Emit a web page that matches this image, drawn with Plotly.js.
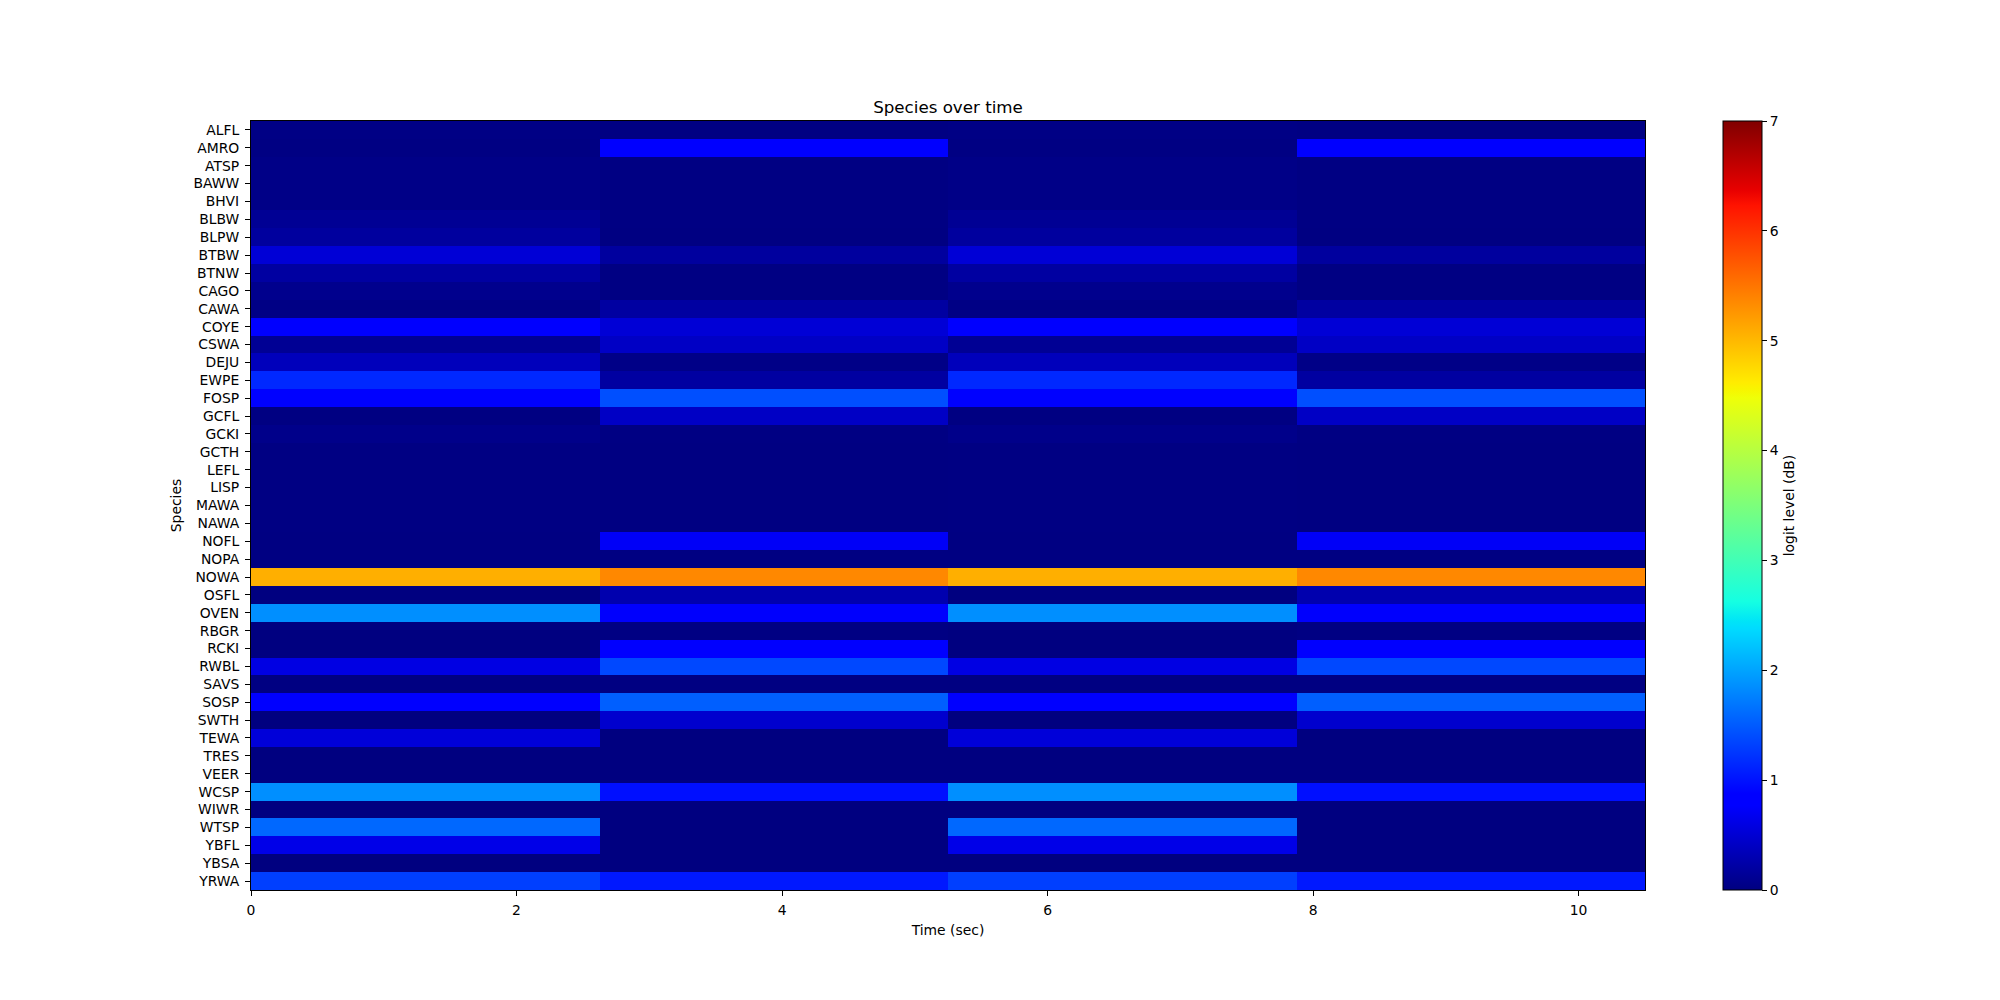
<!DOCTYPE html>
<html>
<head>
<meta charset="utf-8">
<script src="https://cdn.plot.ly/plotly-3.0.1.min.js"></script>
<style>html,body{margin:0;padding:0;background:#fff;}#chart{width:2000px;height:1000px;}</style>
</head>
<body>
<div id="chart"></div>
<script>
const species = ["ALFL","AMRO","ATSP","BAWW","BHVI","BLBW","BLPW","BTBW","BTNW","CAGO","CAWA","COYE","CSWA","DEJU","EWPE","FOSP","GCFL","GCKI","GCTH","LEFL","LISP","MAWA","NAWA","NOFL","NOPA","NOWA","OSFL","OVEN","RBGR","RCKI","RWBL","SAVS","SOSP","SWTH","TEWA","TRES","VEER","WCSP","WIWR","WTSP","YBFL","YBSA","YRWA"];
const timeEdges = [0, 2.625, 5.25, 7.875, 10.5];
// logit level per species for each time segment
const seg1 = [0.03,0.02,0.04,0.04,0.04,0.12,0.18,0.52,0.20,0.08,0.03,0.82,0.12,0.36,1.15,0.88,0.01,0.06,0.02,0.02,0.02,0.02,0.02,0.01,0.01,5.07,0.00,1.86,0.00,0.00,0.60,0.01,0.84,0.00,0.54,0.00,0.00,1.86,0.00,1.59,0.63,0.00,1.31];
const seg2 = [0.02,0.84,0.02,0.02,0.02,0.02,0.01,0.18,0.02,0.02,0.20,0.52,0.42,0.04,0.20,1.42,0.42,0.02,0.01,0.01,0.01,0.01,0.01,0.72,0.01,5.36,0.28,0.76,0.02,0.82,1.37,0.01,1.53,0.47,0.00,0.00,0.00,0.98,0.00,0.00,0.00,0.00,1.04];
const seg3 = [0.03,0.02,0.04,0.04,0.04,0.12,0.18,0.52,0.20,0.08,0.03,0.82,0.12,0.36,1.15,0.88,0.01,0.06,0.02,0.02,0.02,0.02,0.02,0.01,0.01,5.07,0.00,1.86,0.00,0.00,0.60,0.01,0.84,0.00,0.54,0.00,0.00,1.86,0.00,1.59,0.63,0.00,1.31];
const seg4 = [0.02,0.84,0.02,0.02,0.02,0.02,0.01,0.18,0.02,0.02,0.20,0.52,0.42,0.04,0.20,1.42,0.42,0.02,0.01,0.01,0.01,0.01,0.01,0.72,0.01,5.36,0.28,0.76,0.02,0.82,1.37,0.01,1.53,0.47,0.00,0.00,0.00,0.98,0.00,0.00,0.00,0.00,1.04];
const cbTicks = [0,1,2,3,4,5,6,7];

const z = species.map((s, i) => [seg1[i], seg2[i], seg3[i], seg4[i]]);

function rgb(r,g,b){return 'rgb('+Math.round(r*255)+','+Math.round(g*255)+','+Math.round(b*255)+')';}
// matplotlib jet segment data
function jet(f){
  function seg(pts){
    for(let i=0;i<pts.length-1;i++){
      const [x0,y0]=pts[i],[x1,y1]=pts[i+1];
      if(f>=x0&&f<=x1){return y0+(y1-y0)*(f-x0)/(x1-x0);}
    }
    return pts[pts.length-1][1];
  }
  const r=seg([[0,0],[0.35,0],[0.66,1],[0.89,1],[1,0.5]]);
  const g=seg([[0,0],[0.125,0],[0.375,1],[0.64,1],[0.91,0],[1,0]]);
  const b=seg([[0,0.5],[0.11,1],[0.34,1],[0.65,0],[1,0]]);
  return rgb(r,g,b);
}
const stops=[0,0.11,0.125,0.34,0.35,0.375,0.64,0.65,0.66,0.89,0.91,1];
const jetScale=stops.map(s=>[s,jet(s)]);

const font = {family:'DejaVu Sans, sans-serif', size:13.9, color:'#000'};
const trace = {
  type:'heatmap', x:timeEdges, y:species, z:z,
  zmin:0, zmax:7, colorscale:jetScale, hoverinfo:'skip',
  xgap:0, ygap:0,
  colorbar:{
    x:1.056, xanchor:'left', xref:'paper', y:0.5, yanchor:'middle',
    len:1, lenmode:'fraction', thickness:39, thicknessmode:'pixels',
    outlinewidth:1, outlinecolor:'#000',
    tickvals:cbTicks, ticktext:cbTicks.map(String), ticks:'outside', ticklen:5, tickwidth:1, tickcolor:'#000',
    tickfont:font, xpad:0, ypad:0, ticklabelstandoff:2,
    title:{text:'logit level (dB)', side:'right', font:font}
  }
};
const layout = {
  width:2000, height:1000,
  margin:{l:251, r:355, t:121, b:110, pad:0},
  paper_bgcolor:'#fff', plot_bgcolor:'#fff',
  font:font,
  title:{text:'Species over time', font:{family:'DejaVu Sans, sans-serif', size:16.7, color:'#000'}, x:0.5, xref:'paper', xanchor:'center', y:1, yref:'paper', yanchor:'bottom', pad:{b:8}},
  xaxis:{range:[0,10.5], tickvals:[0,2,4,6,8,10], ticks:'outside', ticklen:5, tickwidth:1, tickcolor:'#000',
    showline:true, linecolor:'#000', linewidth:1, mirror:true, showgrid:false, zeroline:false, ticklabelstandoff:2,
    tickfont:font, title:{text:'Time (sec)', font:font, standoff:8}},
  yaxis:{type:'category', autorange:'reversed', ticks:'outside', ticklen:5, tickwidth:1, tickcolor:'#000',
    showline:true, linecolor:'#000', linewidth:1, mirror:true, showgrid:false, zeroline:false, ticklabelstandoff:3,
    tickfont:font, title:{text:'Species', font:font, standoff:8}}
};
Plotly.newPlot('chart',[trace],layout,{displayModeBar:false, staticPlot:true});
</script>
</body>
</html>
